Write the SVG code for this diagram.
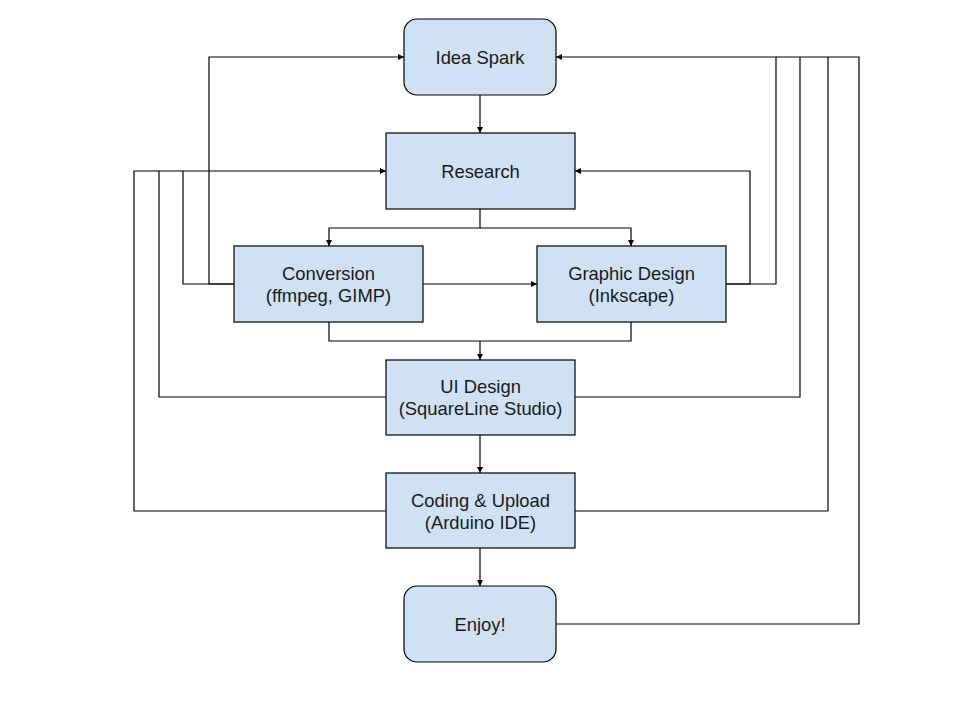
<svg xmlns="http://www.w3.org/2000/svg" width="960" height="720" viewBox="0 0 960 720">
<style>
.box{fill:#cfe2f3;stroke:#000;stroke-width:1.2}
.lbl{font-family:"Liberation Sans",Arial,sans-serif;font-size:18.4px;fill:#1a1a1a;text-anchor:middle}
.c{fill:none;stroke:#000;stroke-width:1.2;marker-end:url(#ah)}
.n{fill:none;stroke:#000;stroke-width:1.2}
</style>
<defs>
<marker id="ah" markerUnits="userSpaceOnUse" markerWidth="8" markerHeight="8" refX="6" refY="3" orient="auto">
<path d="M0,0 L6,3 L0,6 z" fill="#000"/>
</marker>
</defs>
<rect width="960" height="720" fill="#fff"/>
<g id="connectors">
<path class="c" d="M480,95 V133"/>
<path class="c" d="M480,209 V228 H329 V246"/>
<path class="c" d="M480,228 H631 V246"/>
<path class="c" d="M423,284 H537"/>
<path class="n" d="M329,322 V341 H631 V322"/>
<path class="c" d="M480,341 V360"/>
<path class="c" d="M234,284 H209 V57 H404"/>
<path class="c" d="M234,284 H183 V171 H386"/>
<path class="n" d="M386,397 H159 V171 H183"/>
<path class="n" d="M386,511 H134 V171 H159"/>
<path class="c" d="M726,284 H750 V171 H575"/>
<path class="c" d="M726,284 H776 V57 H556"/>
<path class="n" d="M575,397 H800 V57"/>
<path class="n" d="M575,511 H828 V57"/>
<path class="n" d="M556,624 H859 V57 H776"/>
<path class="c" d="M480,435 V473"/>
<path class="c" d="M480,548 V586"/>
</g>
<g id="idea-spark">
<rect class="box" x="404" y="19" width="152" height="76" rx="13"/>
<text class="lbl" x="480" y="64">Idea Spark</text>
</g>
<g id="research">
<rect class="box" x="386" y="133" width="189" height="76"/>
<text class="lbl" x="480.5" y="178">Research</text>
</g>
<g id="conversion">
<rect class="box" x="234" y="246" width="189" height="76"/>
<text class="lbl" x="328.5" y="280">Conversion</text>
<text class="lbl" x="328.5" y="302">(ffmpeg, GIMP)</text>
</g>
<g id="graphic-design">
<rect class="box" x="537" y="246" width="189" height="76"/>
<text class="lbl" x="631.5" y="280">Graphic Design</text>
<text class="lbl" x="631.5" y="302">(Inkscape)</text>
</g>
<g id="ui-design">
<rect class="box" x="386" y="360" width="189" height="75"/>
<text class="lbl" x="480.5" y="393">UI Design</text>
<text class="lbl" x="480.5" y="415">(SquareLine Studio)</text>
</g>
<g id="coding-upload">
<rect class="box" x="386" y="473" width="189" height="75"/>
<text class="lbl" x="480.5" y="507">Coding &amp; Upload</text>
<text class="lbl" x="480.5" y="529">(Arduino IDE)</text>
</g>
<g id="enjoy">
<rect class="box" x="404" y="586" width="152" height="76" rx="13"/>
<text class="lbl" x="480" y="631">Enjoy!</text>
</g>
</svg>
